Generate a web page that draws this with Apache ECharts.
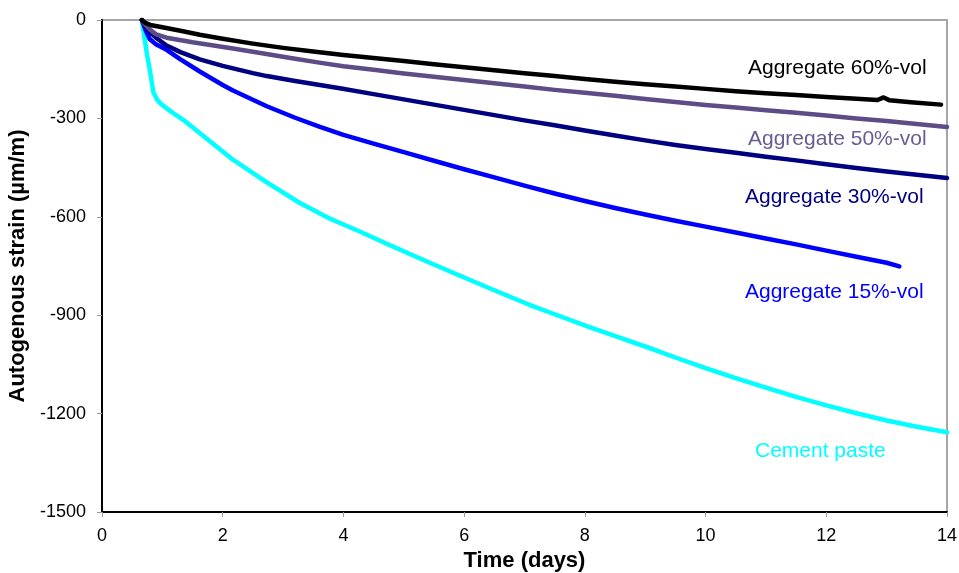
<!DOCTYPE html>
<html>
<head>
<meta charset="utf-8">
<title>Autogenous strain</title>
<script src="https://cdn.jsdelivr.net/npm/echarts@6/dist/echarts.min.js"></script>
<style>
  html, body { margin: 0; padding: 0; background: #fff; }
  #chart { width: 959px; height: 573px; }
</style>
</head>
<body>
<div id="chart"></div>
<script>
// Autogenous strain (µm/m) vs time (days), pairs of [day, strain]
const cementPaste = [
  [0.66, 0], [0.70, -50], [0.75, -110], [0.79, -150], [0.85, -220], [0.92, -245],
  [0.99, -258], [1.15, -280], [1.35, -305], [1.7, -357], [2.17, -426], [2.73, -495],
  [3.28, -558], [3.77, -605], [4.27, -645], [4.8, -689], [5.43, -740], [6.0, -785],
  [6.5, -824], [7.09, -869], [7.6, -904], [8.1, -938], [8.6, -970], [9.07, -1000],
  [9.5, -1029], [10.0, -1061], [10.5, -1092], [11.0, -1121], [11.5, -1149],
  [12.0, -1175], [12.5, -1199], [13.0, -1221], [13.5, -1240], [14.0, -1257]
];
const agg15 = [
  [0.66, 0], [0.72, -30], [0.79, -58], [0.9, -75], [1.07, -91], [1.3, -120],
  [1.62, -157], [2.0, -198], [2.17, -215], [2.73, -263], [3.2, -298], [3.6, -325],
  [4.0, -350], [4.5, -377], [5.0, -403], [5.5, -429], [6.0, -455], [6.5, -480],
  [7.0, -505], [7.5, -529], [8.0, -552], [8.5, -573], [9.0, -593], [9.5, -612],
  [10.0, -630], [10.5, -648], [11.0, -666], [11.5, -684], [12.0, -703], [12.5, -722],
  [13.0, -740], [13.21, -751]
];
const agg30 = [
  [0.66, 0], [0.72, -20], [0.8, -38], [0.9, -55], [1.07, -78], [1.3, -98],
  [1.62, -120], [2.0, -140], [2.5, -162], [2.73, -171], [3.2, -186], [3.94, -208],
  [4.5, -226], [5.0, -242], [5.5, -258], [6.0, -274], [6.5, -290], [7.0, -306],
  [7.5, -321], [8.0, -337], [8.5, -352], [9.0, -367], [9.5, -381], [10.0, -393],
  [10.5, -405], [11.0, -417], [11.5, -428], [12.0, -440], [12.5, -451], [13.0, -462],
  [13.5, -472], [14.0, -482]
];
const agg50 = [
  [0.66, 0], [0.72, -15], [0.8, -30], [0.9, -44], [1.07, -54], [1.5, -68],
  [2.17, -87], [2.7, -103], [3.2, -118], [3.6, -130], [4.0, -141], [4.5, -152],
  [5.0, -163], [5.5, -173], [6.0, -183], [6.5, -193], [7.0, -203], [7.5, -213],
  [8.0, -222], [8.5, -231], [9.0, -241], [9.5, -250], [10.0, -259], [10.5, -267],
  [11.0, -275], [11.5, -283], [12.0, -291], [12.5, -300], [13.0, -308], [13.5, -317],
  [14.0, -326]
];
const agg60 = [
  [0.66, 0], [0.72, -9], [0.8, -15], [1.0, -22], [1.3, -33], [1.62, -45],
  [2.0, -57], [2.5, -72], [3.0, -85], [3.5, -96], [4.0, -107], [4.5, -116],
  [5.0, -125], [5.5, -135], [6.0, -144], [6.5, -153], [7.0, -162], [7.5, -171],
  [8.0, -180], [8.5, -188], [9.0, -196], [9.5, -203], [10.0, -210], [10.5, -217],
  [11.0, -223], [11.5, -229], [12.0, -235], [12.5, -240], [12.85, -244],
  [12.95, -236], [13.05, -245], [13.4, -251], [13.9, -258]
];

const seriesNames = ['Cement paste', 'Aggregate 15%-vol', 'Aggregate 30%-vol', 'Aggregate 50%-vol', 'Aggregate 60%-vol'];
const seriesData = [cementPaste, agg15, agg30, agg50, agg60];
const seriesColors = ['#00FFFF', '#0000FF', '#000080', '#5E4C86', '#000000'];
const labelColors = ['#00FFFF', '#0000FF', '#000080', '#6A5C92', '#000000'];

const xTicks = { min: 0, max: 14, step: 2 };
const yTicks = { min: -1500, max: 0, step: 300 };

const FONT = '"Liberation Sans", Arial, sans-serif';

// series labels placed at the right end of each curve (left, top of text box)
const labelPlacement = [
  [755, 441], [745, 282], [745, 187], [748, 129], [748, 58]
];

const chart = echarts.init(document.getElementById('chart'), null, { renderer: 'canvas' });

const hiddenAxisParts = {
  axisTick: { show: false }, axisLabel: { show: false }, splitLine: { show: false }
};

chart.setOption({
  backgroundColor: '#ffffff',
  animation: false,
  grid: {
    left: 102, right: 12, top: 20, bottom: 61,
    containLabel: false, outerBoundsMode: 'none',
    show: false
  },
  xAxis: [{
    type: 'value',
    min: xTicks.min, max: xTicks.max, interval: xTicks.step,
    name: 'Time (days)',
    nameLocation: 'middle',
    nameGap: 38,
    nameTextStyle: { fontFamily: FONT, fontSize: 22, fontWeight: 'bold', color: '#000' },
    axisLine: { show: true, onZero: false, lineStyle: { color: '#000', width: 2 } },
    axisTick: { show: true, length: 5, lineStyle: { color: '#999', width: 1 } },
    axisLabel: { fontFamily: FONT, fontSize: 18, color: '#000', margin: 15 },
    splitLine: { show: false },
    z: 5
  }, {
    // grey frame line along the top of the plot
    type: 'value', position: 'top',
    min: xTicks.min, max: xTicks.max,
    axisLine: { show: true, onZero: false, lineStyle: { color: '#A6A6A6', width: 2 } },
    ...hiddenAxisParts
  }],
  yAxis: [{
    type: 'value',
    min: yTicks.min, max: yTicks.max, interval: yTicks.step,
    name: 'Autogenous strain (µm/m)',
    nameLocation: 'middle',
    nameGap: 54,
    nameTextStyle: { fontFamily: FONT, fontSize: 22, fontWeight: 'bold', color: '#000' },
    axisLine: { show: true, onZero: false, lineStyle: { color: '#000', width: 2 } },
    axisTick: { show: true, length: 5, lineStyle: { color: '#999', width: 1 } },
    axisLabel: {
      fontFamily: FONT, fontSize: 18, color: '#000', margin: 16,
      formatter: v => String(v)
    },
    splitLine: { show: false },
    z: 5
  }, {
    // grey frame line along the right of the plot
    type: 'value', position: 'right',
    min: yTicks.min, max: yTicks.max,
    axisLine: { show: true, onZero: false, lineStyle: { color: '#A6A6A6', width: 2 } },
    ...hiddenAxisParts
  }],
  series: seriesData.map((d, i) => ({
    name: seriesNames[i],
    type: 'line',
    data: d,
    xAxisIndex: 0,
    yAxisIndex: 0,
    showSymbol: false,
    smooth: false,
    lineStyle: { color: seriesColors[i], width: 4.5, join: 'round', cap: 'round' },
    z: 2 + i
  })),
  graphic: labelPlacement.map((p, i) => ({
    type: 'text',
    left: p[0], top: p[1],
    style: {
      text: seriesNames[i],
      font: '21px ' + FONT,
      fill: labelColors[i]
    },
    z: 10
  }))
});
</script>
</body>
</html>
